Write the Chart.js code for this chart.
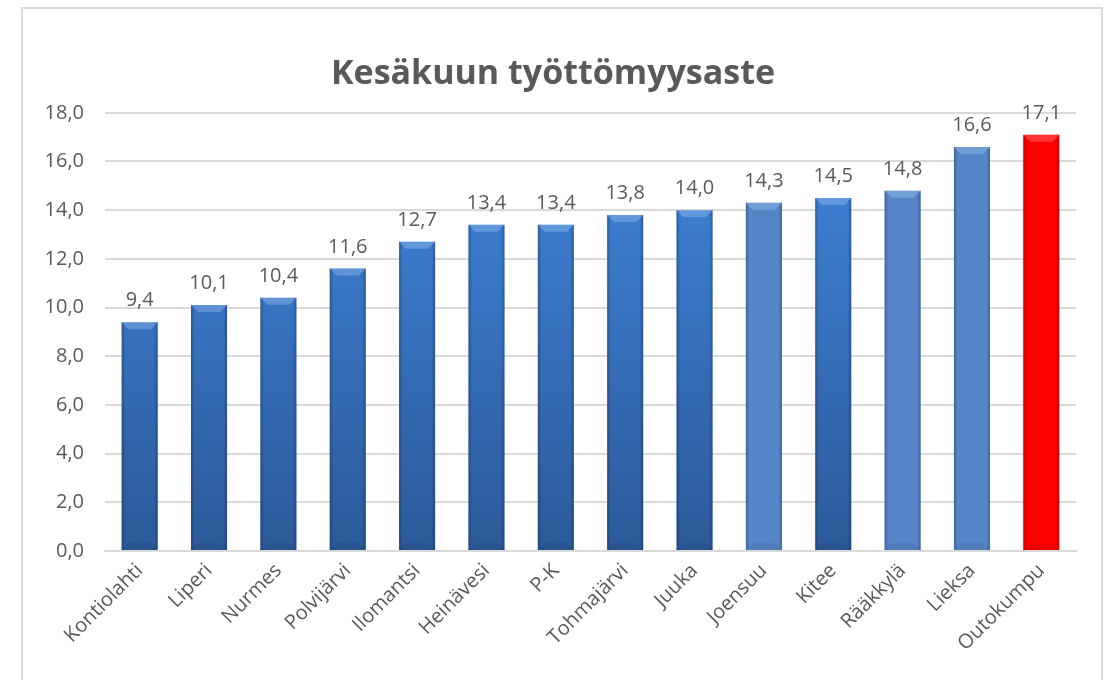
<!DOCTYPE html>
<html>
<head>
<meta charset="utf-8">
<script src="https://cdn.jsdelivr.net/npm/chart.js@4/dist/chart.umd.min.js"></script>
<style>
  html, body { margin: 0; padding: 0; background: #ffffff; width: 1115px; height: 680px; overflow: hidden; }
  #frame { position: absolute; left: 21px; top: 7px; width: 1082px; height: 700px; border: 2px solid #d9d9d9; box-sizing: border-box; }
  #wrap { position: absolute; left: 0; top: 0; width: 1115px; height: 680px; }
</style>
</head>
<body>
<div id="frame"></div>
<div id="wrap"><canvas id="c" width="1115" height="680"></canvas></div>
<script>
const titleText = 'Kesäkuun työttömyysaste';
const categories = ['Kontiolahti','Liperi','Nurmes','Polvijärvi','Ilomantsi','Heinävesi','P-K','Tohmajärvi','Juuka','Joensuu','Kitee','Rääkkylä','Lieksa','Outokumpu'];
const values = [9.4, 10.1, 10.4, 11.6, 12.7, 13.4, 13.4, 13.8, 14.0, 14.3, 14.5, 14.8, 16.6, 17.1];
const barStyle = ['grad','grad','grad','grad','grad','grad','grad','grad','grad','flat','grad','flat','flat','red'];
const yTicks = [0, 2, 4, 6, 8, 10, 12, 14, 16, 18];

const fmt = v => v.toFixed(1).replace('.', ',');
const FONT = "'Open Sans', 'DejaVu Sans', sans-serif";
const TXT = '#595959';

function barFill(ctx) {
  const chart = ctx.chart;
  const area = chart.chartArea;
  const style = barStyle[ctx.dataIndex];
  if (style === 'red') return '#fe0000';
  if (style === 'flat') return '#5585c6';
  if (!area) return '#3a74c0';
  const g = chart.ctx.createLinearGradient(0, area.top, 0, area.bottom);
  g.addColorStop(0, '#4187dc');
  g.addColorStop(0.5, '#3670bd');
  g.addColorStop(1, '#2c5a99');
  return g;
}

const barDecor = {
  id: 'barDecor',
  afterDatasetsDraw(chart) {
    const ctx = chart.ctx;
    const meta = chart.getDatasetMeta(0);
    meta.data.forEach((bar, i) => {
      const p = bar.getProps(['x','y','base','width'], true);
      const l = p.x - p.width / 2, r = p.x + p.width / 2, t = p.y, b = p.base;
      const style = barStyle[i];
      ctx.save();
      const hg = ctx.createLinearGradient(l, 0, r, 0);
      const edge = style === 'red' ? 'rgba(120,0,0,0.3)' : 'rgba(10,30,70,0.3)';
      hg.addColorStop(0, edge);
      hg.addColorStop(0.1, 'rgba(0,0,0,0)');
      hg.addColorStop(0.9, 'rgba(0,0,0,0)');
      hg.addColorStop(1, edge);
      ctx.fillStyle = hg;
      ctx.fillRect(l, t, r - l, b - t);
      const bev = 7;
      ctx.beginPath();
      ctx.moveTo(l, t);
      ctx.lineTo(r, t);
      ctx.lineTo(r - bev, t + bev);
      ctx.lineTo(l + bev, t + bev);
      ctx.closePath();
      ctx.fillStyle = style === 'red' ? 'rgba(255,150,150,0.35)' : 'rgba(170,205,250,0.35)';
      ctx.fill();
      ctx.beginPath();
      ctx.moveTo(l, b);
      ctx.lineTo(r, b);
      ctx.lineTo(r - bev, b - bev);
      ctx.lineTo(l + bev, b - bev);
      ctx.closePath();
      ctx.fillStyle = 'rgba(0,0,0,0.06)';
      ctx.fill();
      ctx.fillStyle = TXT;
      ctx.font = "20px " + FONT;
      ctx.textAlign = 'center';
      ctx.textBaseline = 'alphabetic';
      ctx.fillText(fmt(values[i]), p.x, t - 16);
      ctx.restore();
    });
  }
};

new Chart(document.getElementById('c'), {
  type: 'bar',
  data: {
    labels: categories,
    datasets: [{
      data: values,
      backgroundColor: barFill,
      borderWidth: 0,
      barPercentage: 0.52,
      categoryPercentage: 1.0
    }]
  },
  options: {
    responsive: false,
    animation: false,
    devicePixelRatio: 1,
    layout: { padding: { left: 30, right: 39, top: 18, bottom: 0 } },
    plugins: {
      legend: { display: false },
      tooltip: { enabled: false },
      title: {
        display: true,
        text: titleText,
        color: TXT,
        font: { family: FONT, size: 34, weight: 'bold', lineHeight: 1.2 },
        padding: { top: 36, bottom: 18 }
      }
    },
    scales: {
      x: {
        grid: { display: false, drawTicks: false },
        border: { display: true, color: '#d9d9d9', width: 2 },
        ticks: {
          color: TXT,
          font: { family: FONT, size: 20 },
          minRotation: 45,
          maxRotation: 45,
          padding: 8,
          autoSkip: false
        },
        afterFit(scale) { scale.height = 129; }
      },
      y: {
        min: 0,
        max: 18,
        afterBuildTicks(scale) { scale.ticks = yTicks.map(v => ({ value: v })); },
        grid: { color: '#d9d9d9', lineWidth: 2, drawTicks: false },
        border: { display: false },
        ticks: {
          color: TXT,
          font: { family: FONT, size: 20 },
          padding: 21,
          callback: v => fmt(v)
        },
        afterFit(scale) { scale.width = 75; }
      }
    }
  },
  plugins: [barDecor]
});
</script>
</body>
</html>
